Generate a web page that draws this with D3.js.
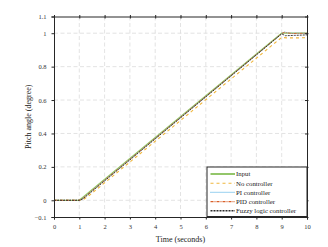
<!DOCTYPE html>
<html><head><meta charset="utf-8">
<script src="https://cdn.jsdelivr.net/npm/d3@7"></script>
<style>body{margin:0;background:#fff}svg{display:block}text{font-family:"Liberation Serif","DejaVu Serif",serif}</style>
</head><body><svg id="c" width="328" height="247"></svg>
<script>
const xTicks = [0,1,2,3,4,5,6,7,8,9,10];
const yTicks = [-0.1,0,0.2,0.4,0.6,0.8,1,1.1];
const seriesNames = ["Input","No controller","PI controller","PID controller","Fuzzy logic controller"];
const inputT = [0,1,9,10];
const inputV = [0,0,1,1];
const noCtrlT = [0,1,1.15,1.4,9,9.2,9.5,10];
const noCtrlV = [0,0,0.003,0.03,0.975,0.972,0.972,0.973];
const piT = [0,1,1.1,9,9.1,9.3,10];
const piV = [0,0,0.006,0.997,1.008,1.0,1.0];
const pidT = [0,1,1.1,9,9.1,9.4,10];
const pidV = [0,0,0.007,0.998,1.005,0.998,1.0];
const fuzzyT = [0,1,1.15,9,9.15,9.5,10];
const fuzzyV = [0,0,0.009,0.996,0.985,0.987,0.99];

const svg = d3.select("#c");
const L=54, R=307, T=16.5, B=217;
const x = d3.scaleLinear().domain([0,10]).range([L,R]);
const y = d3.scaleLinear().domain([-0.1,1.1]).range([B,T]);

// grid
const g = svg.append("g");
g.selectAll(".gx").data(xTicks.slice(1,-1)).enter().append("line")
 .attr("x1",d=>x(d)).attr("x2",d=>x(d)).attr("y1",T).attr("y2",B)
 .attr("stroke","#dcdcdc").attr("stroke-width",0.8).attr("stroke-dasharray","4,2.5");
g.selectAll(".gy").data(yTicks.slice(1,-1)).enter().append("line")
 .attr("y1",d=>y(d)).attr("y2",d=>y(d)).attr("x1",L).attr("x2",R)
 .attr("stroke","#dcdcdc").attr("stroke-width",0.8).attr("stroke-dasharray","4,2.5");

// series
const series = [
 {t:inputT,v:inputV,color:"#93c66a",w:1.3,dash:null},
 {t:noCtrlT,v:noCtrlV,color:"#f0b63c",w:1.1,dash:"3,3"},
 {t:piT,v:piV,color:"#5ab4e6",w:0.9,dash:"1,1"},
 {t:pidT,v:pidV,color:"#d9602a",w:0.9,dash:"3,1,1,1"},
 {t:fuzzyT,v:fuzzyV,color:"#2a2a2a",w:0.9,dash:"2,1"}
];
const line = d3.line().x(d=>x(d[0])).y(d=>y(d[1]));
series.forEach(s=>{
 svg.append("path").attr("d",line(s.t.map((t,i)=>[t,s.v[i]])))
  .attr("fill","none").attr("stroke",s.color).attr("stroke-width",s.w)
  .attr("stroke-dasharray",s.dash);
});

// axes
const ax = svg.append("g").attr("transform",`translate(0,${B})`)
 .call(d3.axisBottom(x).tickValues(xTicks).tickFormat(d3.format("d")).tickSize(2.5).tickPadding(5));
const ay = svg.append("g").attr("transform",`translate(${L},0)`)
 .call(d3.axisLeft(y).tickValues(yTicks).tickFormat(d=>d3.format("~g")(+d.toFixed(2))).tickSize(2.5).tickPadding(5));
const at = svg.append("g").attr("transform",`translate(0,${T})`)
 .call(d3.axisTop(x).tickValues(xTicks).tickFormat("").tickSizeInner(2).tickSizeOuter(0));
at.selectAll(".tick line").attr("y2",2).attr("y1",-1.5);
const ar = svg.append("g").attr("transform",`translate(${R},0)`)
 .call(d3.axisRight(y).tickValues(yTicks).tickFormat("").tickSizeInner(2).tickSizeOuter(0));
ar.selectAll(".tick line").attr("x1",-2).attr("x2",1.5);
[ax,ay,at,ar].forEach(a=>{
 a.selectAll(".domain").attr("stroke","#262626").attr("stroke-width",1);
 a.selectAll(".tick line").attr("stroke","#262626");
 a.selectAll("text").attr("font-size",6.5).attr("fill","#333").attr("font-family","Liberation Serif");
});

// axis titles
svg.append("text").attr("x",(L+R)/2).attr("y",242).attr("text-anchor","middle")
 .attr("font-size",8).attr("fill","#222").text("Time (seconds)");
svg.append("text").attr("transform",`translate(31,${(T+B)/2}) rotate(-90)`).attr("text-anchor","middle")
 .attr("font-size",8).attr("fill","#222").text("Pitch angle (degree)");

// legend
const lx=207, ly=167, lw=R-lx, lh=49.5;
svg.append("rect").attr("x",lx).attr("y",ly).attr("width",lw).attr("height",lh)
 .attr("fill","#fff").attr("stroke","#262626").attr("stroke-width",1);
seriesNames.forEach((n,i)=>{
 const yy = ly+7+i*9.2;
 const s = series[i];
 svg.append("line").attr("x1",lx+3.5).attr("x2",lx+28).attr("y1",yy).attr("y2",yy)
  .attr("stroke",s.color).attr("stroke-width",i==0?2:(i==4?1.4:1.1)).attr("stroke-dasharray",s.dash);
 svg.append("text").attr("x",lx+29).attr("y",yy+2.3).attr("font-size",6.8).attr("fill","#1a1a1a").text(n);
});
</script></body></html>
